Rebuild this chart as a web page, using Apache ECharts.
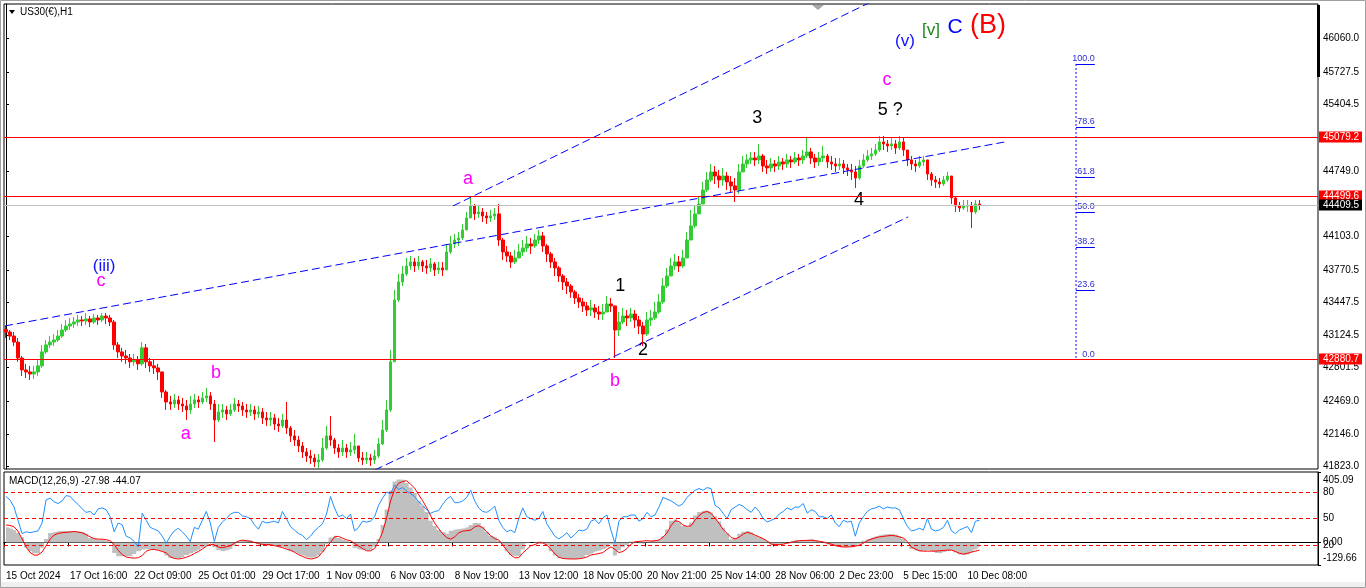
<!DOCTYPE html>
<html><head><meta charset="utf-8">
<script src="https://cdn.jsdelivr.net/npm/echarts@6/dist/echarts.min.js"></script>
<style>html,body{margin:0;padding:0;background:#fff;}#c{width:1366px;height:588px;}</style>
</head><body><div id="c"></div>
<script>
// ---- price data (H1 bars, grouped 4 per candle) ----
const firstOpen = 43180;
const closes = [
43155,43115,43055,42898,42780,42760,42740,42760,42820,42958,
43027,43056,43076,43115,43175,43214,43234,43254,43274,43264,
43284,43254,43294,43274,43313,43294,43254,43027,42958,42918,
42898,42860,42879,42840,42998,42860,42820,42800,42760,42562,
42463,42443,42483,42443,42424,42384,42443,42483,42463,42503,
42523,42443,42285,42364,42384,42345,42384,42443,42424,42384,
42364,42384,42345,42364,42305,42285,42305,42245,42226,42285,
42206,42127,42087,42028,41969,41929,41909,41870,41890,42008,
42127,42087,42008,41969,42008,41969,41989,42028,41909,41890,
41909,41890,41929,42047,42186,42384,42860,43472,43650,43729,
43808,43848,43808,43848,43808,43789,43828,43769,43789,43769,
43947,44026,44065,44085,44164,44283,44401,44323,44342,44303,
44283,44303,44323,44065,43947,43907,43848,43887,43947,43986,
44026,44006,44065,44105,44006,43927,43848,43789,43709,43650,
43610,43551,43492,43452,43413,43373,43393,43353,43333,43353,
43432,43413,43175,43254,43313,43294,43333,43274,43214,43135,
43274,43294,43353,43452,43610,43709,43808,43848,43808,43887,
44065,44204,44323,44421,44560,44659,44738,44698,44659,44698,
44639,44600,44560,44738,44817,44857,44876,44857,44896,44797,
44778,44817,44797,44837,44817,44857,44837,44876,44857,44896,
44936,44876,44837,44876,44896,44837,44817,44797,44817,44778,
44758,44738,44678,44797,44857,44896,44916,44955,45035,45015,
44995,45015,44975,45035,44955,44857,44817,44797,44837,44857,
44718,44659,44639,44619,44659,44698,44481,44401,44381,44401,
44401,44342,44421,44409.5];
const highs = [
43215,43175,43155,43095,42918,42840,42820,42820,42879,43027,
43076,43115,43135,43175,43234,43274,43293,43303,43324,43313,
43343,43313,43333,43324,43343,43343,43324,43274,43056,42998,
42978,42938,42938,42918,43056,43037,42898,42879,42840,42760,
42582,42523,42543,42523,42503,42483,42523,42543,42523,42562,
42602,42562,42483,42443,42443,42424,42443,42503,42483,42463,
42443,42443,42424,42424,42404,42364,42364,42345,42305,42345,
42463,42226,42186,42127,42067,42008,41989,41949,41949,42107,
42226,42325,42107,42047,42087,42047,42067,42147,42028,41969,
41969,41949,41989,42107,42285,42483,42978,43571,43729,43808,
43887,43907,43887,43907,43868,43868,43887,43848,43848,43848,
44026,44105,44125,44145,44224,44342,44500,44421,44401,44381,
44342,44362,44381,44421,44085,44006,43947,43967,44026,44065,
44105,44085,44125,44164,44145,44026,43947,43887,43808,43729,
43689,43630,43571,43531,43492,43452,43472,43432,43413,43432,
43511,43492,43393,43353,43393,43373,43393,43373,43313,43254,
43353,43373,43452,43531,43689,43789,43887,43927,43907,43967,
44145,44362,44401,44500,44639,44738,44817,44797,44758,44778,
44738,44698,44678,44817,44896,44916,44936,44936,45015,44916,
44857,44876,44857,44896,44876,44916,44896,44936,44916,44955,
45074,44975,44916,44936,44995,44916,44896,44876,44876,44857,
44817,44817,44797,44857,44916,44955,44975,45015,45094,45094,
45054,45074,45054,45094,45074,44955,44896,44857,44896,44896,
44857,44738,44698,44678,44698,44738,44698,44500,44441,44461,
44461,44441,44461,44461];
const lows = [
43095,43075,43015,42860,42720,42700,42681,42690,42720,42800,
42938,42998,43017,43056,43095,43155,43175,43195,43214,43214,
43225,43204,43234,43225,43254,43234,43214,42978,42898,42860,
42840,42800,42820,42780,42820,42800,42760,42740,42681,42503,
42384,42384,42404,42384,42364,42285,42345,42404,42404,42443,
42463,42384,42067,42265,42305,42285,42325,42364,42364,42325,
42305,42325,42285,42305,42245,42226,42226,42186,42166,42206,
42147,42067,42028,41969,41909,41870,41850,41820,41811,41870,
41989,42028,41949,41909,41929,41909,41929,41949,41870,41840,
41850,41830,41850,41909,42038,42166,42364,42860,43452,43610,
43709,43769,43749,43769,43749,43729,43749,43709,43729,43709,
43769,43927,43986,44006,44065,44164,44303,44263,44283,44243,
44224,44243,44263,44006,43868,43848,43789,43828,43907,43907,
43947,43927,43986,44026,43947,43848,43789,43709,43650,43571,
43531,43492,43432,43393,43353,43313,43313,43294,43274,43274,
43353,43353,42898,43116,43234,43214,43254,43195,43135,43017,
43116,43214,43274,43333,43432,43591,43709,43769,43749,43789,
43887,44065,44184,44323,44421,44540,44639,44619,44580,44600,
44560,44540,44441,44520,44738,44778,44817,44797,44817,44738,
44718,44738,44738,44758,44758,44778,44778,44817,44797,44817,
44876,44817,44778,44797,44837,44778,44758,44738,44758,44718,
44698,44659,44580,44659,44778,44837,44857,44896,44936,44955,
44936,44955,44916,44955,44896,44797,44758,44738,44778,44797,
44659,44600,44580,44580,44600,44639,44421,44342,44342,44362,
44342,44184,44323,44362];

// ---- MACD pane ----
const macdMain = [
88,80,70,55,30,-30,-50,-62,-64,-30,
20,54,60,64,66,66,66,65,63,60,
50,25,20,16,14,10,0,-60,-80,-80,
-80,-80,-66,-50,-40,-38,-38,-40,-44,-55,
-75,-90,-90,-90,-85,-72,-62,-52,-42,-30,
-19,-5,-27,-45,-50,-45,-38,-20,5,15,
15,12,0,-10,-15,-18,-19,-22,-26,-28,
-35,-50,-58,-68,-75,-85,-88,-87,-75,-55,
-10,29,38,25,15,8,0,-30,-40,-44,
-44,-44,-25,20,100,190,297,350,362,360,
342,316,285,240,210,175,125,95,72,60,
50,67,75,77,80,88,100,112,110,90,
62,38,30,10,-20,-50,-72,-80,-80,-40,
-5,0,3,5,2,-15,-50,-75,-88,-92,
-95,-95,-95,-92,-85,-72,-63,-52,-46,-38,
-27,-12,-75,-45,-28,-15,5,2,-5,-8,
2,10,10,15,35,75,125,134,115,95,
88,115,155,175,182,182,172,150,120,85,
55,19,26,50,62,66,58,42,30,20,
8,-10,-13,-12,-8,0,10,13,13,13,
15,19,12,4,-4,-12,-19,-24,-27,-27,
-27,-25,-20,-8,10,20,29,36,42,46,
48,48,44,35,20,-5,-38,-48,-50,-48,
-44,-50,-60,-62,-55,-48,-44,-58,-70,-72,
-70,-55,-40,-27.98];
const macdSignal = [
100,98,90,65,20,-25,-57,-73,-72,-55,
-20,19,42,52,56,58,60,63,60,55,
45,32,22,19,19,16,10,-12,-45,-70,
-84,-88,-90,-88,-75,-50,-42,-40,-45,-52,
-60,-82,-92,-95,-92,-85,-76,-64,-52,-38,
-22,-10,-14,-26,-30,-25,-19,-5,8,13,
10,6,0,-7,-11,-12,-13,-18,-24,-30,
-38,-44,-56,-70,-80,-90,-95,-92,-82,-55,
-25,0,32,35,25,15,10,-5,-20,-35,
-48,-48,-35,5,60,140,240,305,340,350,
355,335,312,275,240,200,153,112,80,50,
28,19,32,55,65,68,71,90,96,85,
62,38,22,14,-15,-45,-72,-88,-88,-60,
-40,-19,-12,-2,-3,-15,-38,-65,-85,-92,
-94,-95,-95,-94,-90,-84,-72,-68,-64,-58,
-40,-25,-40,-58,-52,-35,-10,4,6,8,
10,8,10,14,30,55,96,125,120,100,
92,96,128,155,172,178,167,140,110,75,
52,29,20,30,48,58,52,42,32,22,
8,-10,-12,-13,-10,-4,0,6,10,11,
12,13,10,7,3,-4,-10,-17,-23,-26,
-26,-25,-22,-15,-5,10,19,26,32,35,
38,40,38,32,25,5,-27,-38,-48,-50,
-50,-50,-50,-48,-46,-44,-44,-52,-62,-67,
-62,-56,-50,-44.07];
const oscLine = [
75,71,63,48,33,35,34,35,36,45,
71,73,69,67,70,76,75,70,66,61,
57,58,54,61,62,60,52,35,45,43,
30,28,24,18,56,48,40,38,36,30,
22,30,36,39,35,30,24,40,38,48,
58,45,24,40,46,50,55,57,57,53,
52,50,43,38,47,45,46,47,45,58,
50,41,37,33,31,26,30,36,40,44,
55,75,62,52,54,50,55,36,40,47,
46,47,52,65,73,80,78,88,83,85,
81,78,75,69,65,60,56,58,59,66,
72,75,68,68,70,74,82,70,62,58,
57,60,64,48,40,35,37,34,50,62,
52,50,48,50,58,44,37,30,27,30,
34,28,32,37,36,38,47,49,44,51,
54,37,22,47,52,52,54,54,47,50,
57,52,54,63,74,72,70,67,64,67,
74,78,82,84,82,85,84,65,62,56,
50,60,63,66,64,60,57,63,58,50,
46,48,50,55,58,62,60,63,63,67,
56,60,58,52,52,50,54,45,41,48,
46,47,30,45,52,58,61,62,64,61,
63,62,62,60,50,41,36,37,39,37,
50,38,36,37,40,48,36,33,37,39,
41,34,47,48];
const oscLevels = [80, 50, 20];
const macdTicks = [405.09, 0, -129.66];

// ---- axes ----
const tickLabels = ['15 Oct 2024','17 Oct 16:00','22 Oct 09:00','25 Oct 01:00','29 Oct 17:00','1 Nov 09:00','6 Nov 03:00','8 Nov 19:00','13 Nov 12:00','18 Nov 05:00','20 Nov 21:00','25 Nov 14:00','28 Nov 06:00','2 Dec 23:00','5 Dec 15:00','10 Dec 08:00'];
const priceTicks = [46060.0,45727.5,45404.5,44749.0,44103.0,43770.5,43447.5,43124.5,42801.5,42469.0,42146.0,41823.0];

// ---- drawings (bar index, price) ----
const priceLevels = [45079.2, 44499.6, 42880.7, 44409.5];
const priceLevelKind = ['level', 'level', 'level', 'bid'];
const upperChannel = [[111.6, 44402], [219, 46479]];
const midLine = [[-0.25, 43215], [249.4, 45035]];
const lowerChannel = [[92.1, 41791], [225.2, 44293]];
const fibZero = 42880.7, fibHundred = 45806;
const fibBars = [267.1, 271.8];
const fibRatios = [0, 23.6, 38.2, 50, 61.8, 78.6, 100];
const waveText  = ['(iii)','c','a','b','a','b','1','2','3','4','5 ?','c','(v)','[v]','C','(B)'];
const waveBar   = [24.5, 23.7, 44.9, 52.4, 115.3, 152.0, 153.3, 159.0, 187.5, 212.9, 220.7, 219.9, 224.4, 230.9, 236.9, 245.1];
const wavePrice = [43808, 43660, 42147, 42750, 44669, 42671, 43610, 42978, 45272, 44461, 45351, 45648, 46033, 46142, 46172, 46182];
const waveStyle = ['blue17','mag','mag','mag','mag','mag','blk','blk','blk','blk','blk','mag','blue17','green','blue20','red'];

const STYLES = {
  blue17:{fill:'#1010ff', size:17}, mag:{fill:'#ff00ff', size:18}, blk:{fill:'#000', size:18},
  green:{fill:'#1a8a1a', size:17}, blue20:{fill:'#0000ff', size:21}, red:{fill:'#ff0000', size:27}
};
const LEVEL_STYLE = {level:{line:'#ff0000', bg:'#ff0000'}, bid:{line:'#c0c0c0', bg:'#000000'}};
const FONT = '"Liberation Sans", Arial, sans-serif';
const N = 328, STEP = 16;
const cats = Array.from({length:N}, (_, i) => (i % STEP === 0 && tickLabels[i / STEP]) ? tickLabels[i / STEP] : '');
const candles = closes.map((c, i) => {
  const o = i === 0 ? firstOpen : closes[i - 1];
  return [o, c, Math.min(lows[i], o, c), Math.max(highs[i], o, c)];
});
const showLbl = (i, v) => v !== '';

const chart = echarts.init(document.getElementById('c'), null, {renderer:'canvas'});

chart.setOption({
  animation:false,
  backgroundColor:'#fff',
  title:[
    {text:'US30(€),H1', left:20, top:7, padding:0, textStyle:{fontSize:10, fontWeight:'normal', color:'#000', fontFamily:FONT}},
    {text:'MACD(12,26,9) -27.98 -44.07', left:9, top:476, padding:0, textStyle:{fontSize:10, fontWeight:'normal', color:'#000', fontFamily:FONT}}
  ],
  grid:[
    {left:4, top:4, width:1314, height:465, show:true, borderColor:'#000', borderWidth:1, outerBoundsMode:'none'},
    {left:4, top:472, width:1314, height:93, show:true, borderColor:'#000', borderWidth:1, outerBoundsMode:'none'}
  ],
  xAxis:[
    {type:'category', gridIndex:0, data:cats, boundaryGap:true, axisLine:{show:false}, axisTick:{show:false}, axisLabel:{show:false}, splitLine:{show:false}},
    {type:'category', gridIndex:1, data:cats, boundaryGap:true,
      axisLine:{show:true, lineStyle:{color:'#000'}},
      axisTick:{show:true, interval:showLbl, length:4, lineStyle:{color:'#000'}},
      axisLabel:{show:true, interval:showLbl, align:'left', fontSize:10, color:'#000', fontFamily:FONT, margin:6},
      splitLine:{show:false}},
    {type:'value', gridIndex:0, min:-0.5, max:N - 0.5, show:false}
  ],
  yAxis:[
    {type:'value', gridIndex:0, position:'right', min:41800, max:46399, splitLine:{show:false},
      axisLine:{show:true, lineStyle:{color:'#000'}},
      axisTick:{show:true, length:3, customValues:priceTicks, lineStyle:{color:'#000'}},
      axisLabel:{customValues:priceTicks, formatter:(v)=>v.toFixed(1), fontSize:10, color:'#000', margin:5, fontFamily:FONT}},
    {type:'value', gridIndex:1, position:'right', min:-129.66, max:405.09, splitLine:{show:false},
      axisLine:{show:true, lineStyle:{color:'#000'}},
      axisTick:{show:true, length:3, customValues:macdTicks, lineStyle:{color:'#000'}},
      axisLabel:{customValues:macdTicks, fontSize:10, color:'#000', margin:5, fontFamily:FONT,
        formatter:(v)=> v > 0 ? '{t|' + v.toFixed(2) + '}' : (v < 0 ? '{b|' + v.toFixed(2) + '}' : v.toFixed(2)),
        rich:{t:{padding:[16,0,0,0], fontSize:10, fontFamily:FONT, color:'#000'}, b:{padding:[0,0,14,0], fontSize:10, fontFamily:FONT, color:'#000'}}}},
    {type:'value', gridIndex:1, position:'right', min:-2.6, max:102.7, splitLine:{show:false},
      axisLine:{show:false}, axisTick:{show:false},
      axisLabel:{customValues:oscLevels, formatter:(v)=>String(v), fontSize:10, color:'#000', margin:5, fontFamily:FONT}}
  ],
  series:[
    {type:'candlestick', xAxisIndex:0, yAxisIndex:0, data:candles, barWidth:3, large:false, silent:true,
      itemStyle:{color:'#32cd32', color0:'#ff0000', borderColor:'#32cd32', borderColor0:'#ff0000', borderWidth:1}},
    // horizontal price levels + their axis tags
    {type:'custom', xAxisIndex:2, yAxisIndex:0, silent:true, clip:false, z:3,
      data:priceLevels.map((v, i) => [0, v, i]),
      renderItem:(params, api) => {
        const i = api.value(2);
        const cs = params.coordSys;
        const y = Math.floor(api.coord([0, api.value(1)])[1]) + 0.5;
        const st = LEVEL_STYLE[priceLevelKind[i]];
        const x2 = cs.x + cs.width;
        return {type:'group', children:[
          {type:'rect', shape:{x:cs.x, y:y - 0.5, width:cs.width, height:1}, style:{fill:st.line}},
          {type:'rect', shape:{x:x2 + 1, y:y - 6, width:43, height:11}, style:{fill:st.bg}},
          {type:'text', x:x2 + 5, y:y, style:{text:api.value(1).toFixed(1), fill:'#fff', font:'10px ' + FONT, align:'left', verticalAlign:'middle'}}
        ]};
      }},
    ...[upperChannel, midLine, lowerChannel].map(d => ({type:'line', xAxisIndex:2, yAxisIndex:0, data:d, symbol:'none', silent:true,
      lineStyle:{color:'#0000ff', width:1, type:[8,4]}})),
    {type:'line', xAxisIndex:2, yAxisIndex:0, data:[[fibBars[0], fibHundred],[fibBars[0], fibZero]], symbol:'none', silent:true,
      lineStyle:{color:'#0000ff', width:1, type:[2,2]}},
    {type:'custom', xAxisIndex:2, yAxisIndex:0, silent:true, clip:false,
      data:fibRatios.map(r => [r]),
      renderItem:(params, api) => {
        const r = api.value(0);
        const p = fibZero + r / 100 * (fibHundred - fibZero);
        const a = api.coord([fibBars[0], p]), b = api.coord([fibBars[1], p]);
        const y = Math.round(a[1]) + 0.5;
        const ch = [];
        if (r !== 0) ch.push({type:'line', shape:{x1:a[0], y1:y, x2:b[0], y2:y}, style:{stroke:'#0000ff', lineWidth:1}});
        ch.push({type:'text', x:b[0], y:y - 1, style:{text:r.toFixed(1), fill:'#2a2ad0', font:'9px ' + FONT, align:'right', verticalAlign:'bottom'}});
        return {type:'group', children:ch};
      }},
    {type:'custom', xAxisIndex:2, yAxisIndex:0, silent:true, clip:false,
      data:waveText.map((t, i) => [waveBar[i], wavePrice[i], i]),
      renderItem:(params, api) => {
        const i = api.value(2);
        const pt = api.coord([api.value(0), api.value(1)]);
        const s = STYLES[waveStyle[i]];
        return {type:'text', x:pt[0], y:pt[1], style:{text:waveText[i], fill:s.fill, font:s.size + 'px ' + FONT, align:'center', verticalAlign:'middle'}};
      }},
    {type:'line', xAxisIndex:1, yAxisIndex:1, data:macdMain, step:'middle', symbol:'none', silent:true,
      lineStyle:{width:0, color:'#c0c0c0'}, areaStyle:{color:'#c0c0c0', opacity:1}},
    {type:'line', xAxisIndex:1, yAxisIndex:1, data:macdSignal, symbol:'none', silent:true, lineStyle:{color:'#ff0000', width:1}},
    {type:'line', xAxisIndex:1, yAxisIndex:2, data:oscLine, symbol:'none', silent:true, lineStyle:{color:'#1e90ff', width:1},
      markLine:{silent:true, symbol:['none','none'], label:{show:false},
        data:oscLevels.map(v => ({yAxis:v})), lineStyle:{color:'#ff0000', width:1, type:[4,3]}}}
  ],
  graphic:[
    {type:'polygon', shape:{points:[[9,10],[15,10],[12,14]]}, style:{fill:'#000'}},
    {type:'polygon', shape:{points:[[812,5],[824,5],[818,10]]}, style:{fill:'#a8a8a8'}},
    {type:'rect', shape:{x:1317, y:5, width:3, height:72}, style:{fill:'#000'}, z:100},
    {type:'rect', shape:{x:0, y:582, width:1366, height:6}, style:{fill:'#f0f0f0'}},
    {type:'rect', shape:{x:0.5, y:0.5, width:1365, height:587}, style:{fill:'none', stroke:'#a0a0a0'}}
  ]
});
</script></body></html>
